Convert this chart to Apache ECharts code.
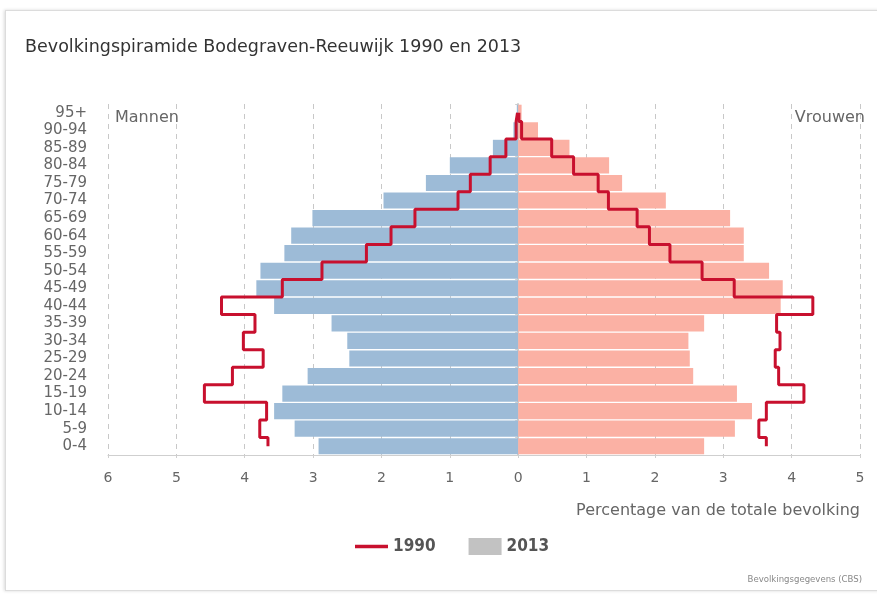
<!DOCTYPE html>
<html>
<head>
<meta charset="utf-8">
<script src="https://cdn.jsdelivr.net/npm/echarts@6/dist/echarts.min.js"></script>
<style>
html,body{margin:0;padding:0;background:#fff;}
#card{position:absolute;left:5px;top:10px;width:900px;height:579px;border:1px solid #dcdcdc;box-shadow:-1px 0 3px rgba(0,0,0,0.15);background:#fff;}
#chart{position:absolute;left:0;top:0;width:877px;height:603px;}
</style>
</head>
<body>
<div id="card"></div>
<div id="chart"></div>
<script>
const ageGroups = ['0-4','5-9','10-14','15-19','20-24','25-29','30-34','35-39','40-44','45-49','50-54','55-59','60-64','65-69','70-74','75-79','80-84','85-89','90-94','95+'];
const men2013 = [2.92,3.27,3.57,3.45,3.08,2.47,2.50,2.73,3.57,3.83,3.77,3.42,3.32,3.01,1.97,1.35,1.00,0.37,0.07,0.02];
const women2013 = [2.72,3.17,3.42,3.20,2.56,2.51,2.49,2.72,3.84,3.87,3.67,3.30,3.30,3.10,2.16,1.52,1.33,0.75,0.29,0.05];
const men1990 = [3.66,3.78,3.68,4.59,4.18,3.73,4.02,3.85,4.34,3.45,2.87,2.22,1.86,1.51,0.88,0.70,0.41,0.18,0.03,0.01];
const women1990 = [3.63,3.52,3.63,4.18,3.81,3.76,3.83,3.78,4.31,3.16,2.69,2.22,1.92,1.74,1.32,1.17,0.81,0.49,0.05,0.01];
const xTicks = {min: -6, max: 5, interval: 1};

const FONT = 'DejaVu Sans';
const FONTC = 'DejaVu Sans Condensed';
const chart = echarts.init(document.getElementById('chart'), null, {renderer: 'canvas'});
const option = {
  backgroundColor: 'transparent',
  textStyle: {fontFamily: FONT},
  title: [
    {text: 'Bevolkingspiramide Bodegraven-Reeuwijk 1990 en 2013', left: 20, top: 33,
     textStyle: {fontFamily: FONT, fontSize: 17.5, fontWeight: 'normal', color: '#333'}},
    {text: 'Mannen', left: 110, top: 105, textStyle: {fontFamily: FONT, fontSize: 16, fontWeight: 'normal', color: '#666'}},
    {text: 'Vrouwen', right: 7, top: 105, textStyle: {fontFamily: FONT, fontSize: 16, fontWeight: 'normal', color: '#666'}},
    {text: 'Percentage van de totale bevolking', right: 12, top: 498, textStyle: {fontFamily: FONT, fontSize: 16, fontWeight: 'normal', color: '#666'}},
    {text: 'Bevolkingsgegevens (CBS)', right: 10, top: 570, textStyle: {fontFamily: FONTC, fontSize: 9.5, fontWeight: 'normal', color: '#888'}}
  ],
  legend: {
    left: 350, top: 533, itemWidth: 33, itemHeight: 17, itemGap: 33,
    textStyle: {fontFamily: FONTC, fontSize: 17, fontWeight: 'bold', color: '#555'},
    data: [
      {name: '1990', icon: 'path://M0,0 L30,0 L30,3 L0,3 Z', itemStyle: {color: '#c8102e'}},
      {name: '2013', icon: 'rect', itemStyle: {color: '#c2c2c2'}}
    ]
  },
  grid: {left: 108, right: 17, top: 104, bottom: 148},
  xAxis: {
    type: 'value', min: xTicks.min, max: xTicks.max, interval: xTicks.interval,
    axisLine: {show: true, lineStyle: {color: '#cfcfcf'}},
    axisTick: {show: true, length: 3, lineStyle: {color: '#cfcfcf'}},
    axisLabel: {formatter: v => String(Math.abs(v)), color: '#666', fontSize: 14, margin: 16, fontFamily: FONT},
    splitLine: {show: true, lineStyle: {color: '#c8c8c8', type: [5, 5], width: 1}}
  },
  yAxis: {
    type: 'category', data: ageGroups,
    axisLine: {show: true, lineStyle: {color: '#cfcfcf', width: 2}},
    axisTick: {show: true, length: 3, interval: 0, lineStyle: {color: '#cfcfcf'}},
    axisLabel: {interval: 0, color: '#666', fontSize: 15, margin: 21, fontFamily: FONT},
    splitLine: {show: false}
  },
  series: [
    {name: '2013', type: 'bar', stack: 'pop', data: men2013.map(v => -v), barCategoryGap: '8%',
     itemStyle: {color: '#9dbbd7'}, z: 2},
    {name: '2013', type: 'bar', stack: 'pop', data: women2013, barCategoryGap: '8%',
     itemStyle: {color: '#fbb1a4'}, z: 2},
    {name: '1990', type: 'line', step: 'middle', data: men1990.map(v => -v), symbol: 'none',
     lineStyle: {color: '#c8102e', width: 3}, itemStyle: {color: '#c8102e'}, z: 5},
    {name: '1990', type: 'line', step: 'middle', data: women1990, symbol: 'none',
     lineStyle: {color: '#c8102e', width: 3}, itemStyle: {color: '#c8102e'}, z: 5}
  ]
};
chart.setOption(option);
</script>
</body>
</html>
